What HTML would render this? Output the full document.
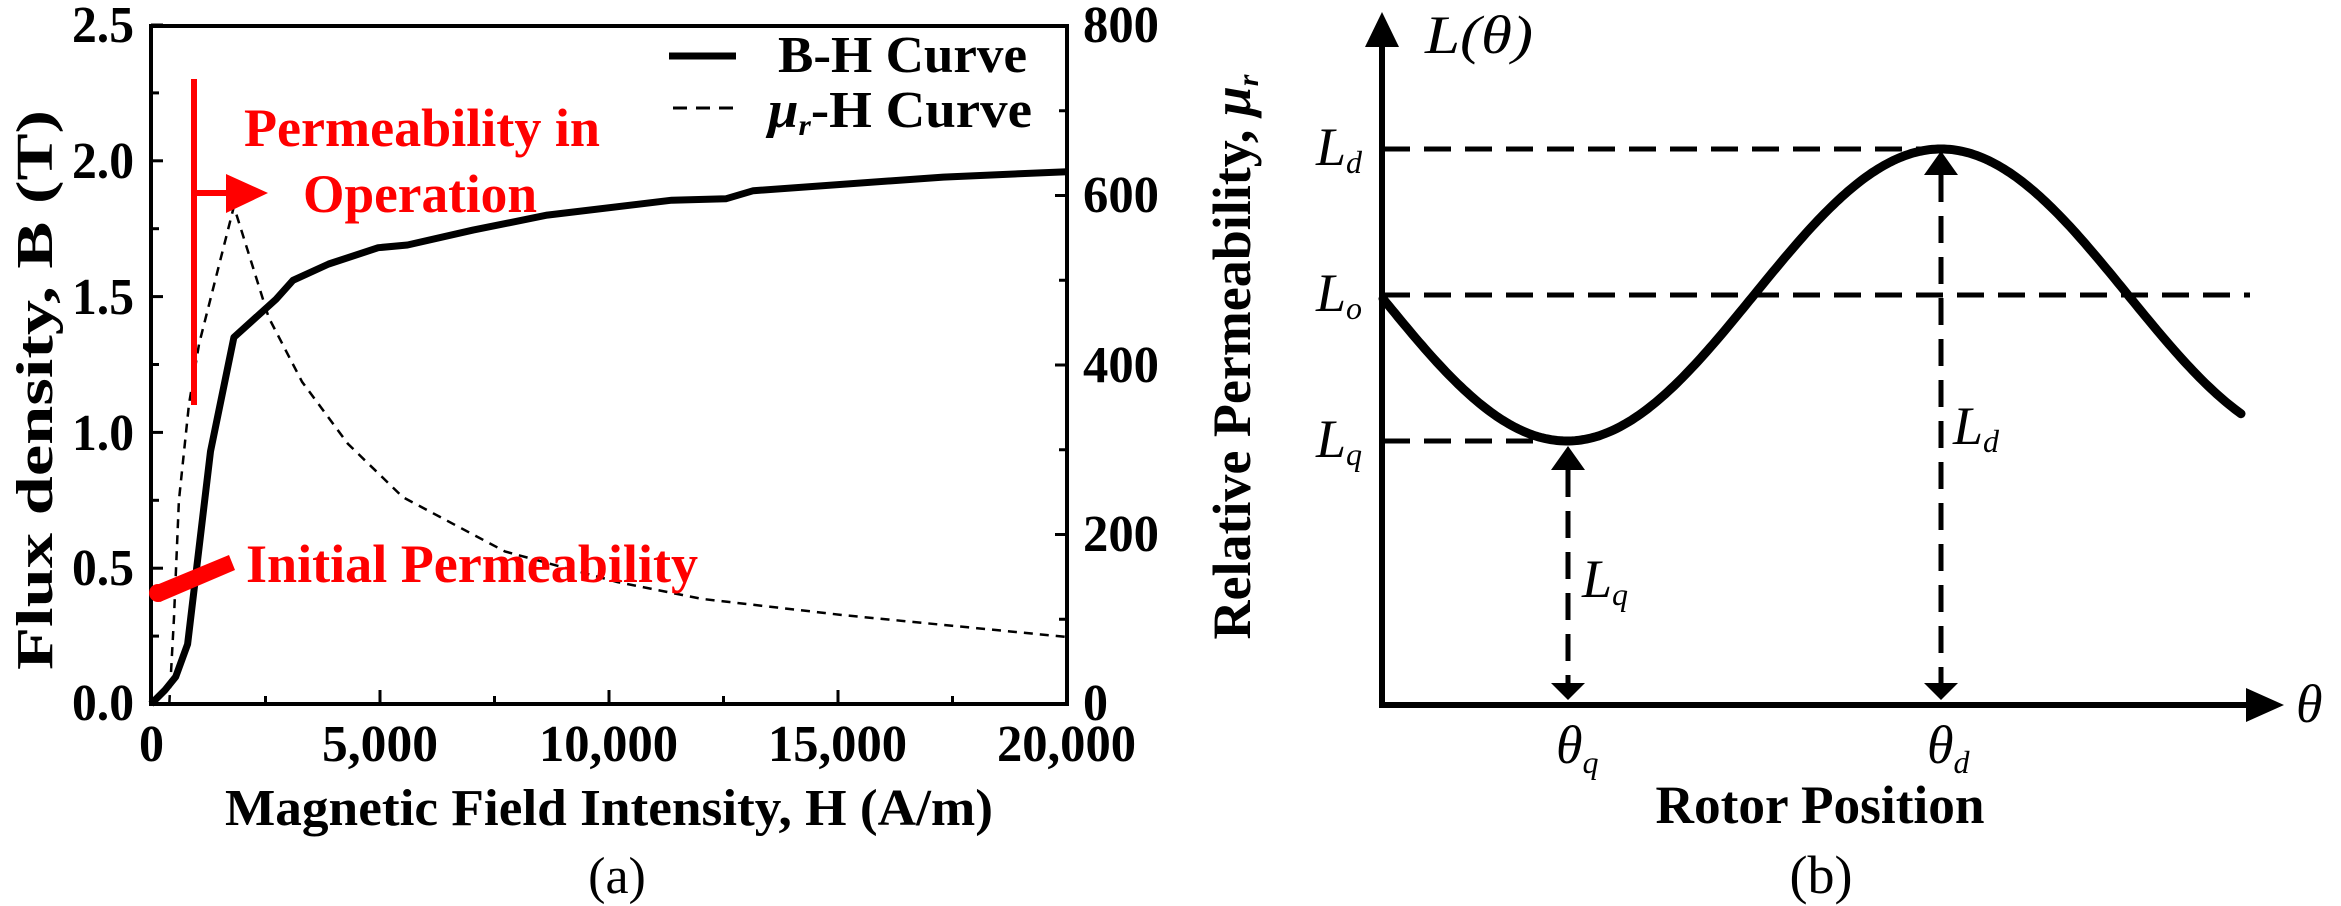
<!DOCTYPE html>
<html><head><meta charset="utf-8"><style>
html,body{margin:0;padding:0;background:#fff;}
svg{display:block;}
text{font-family:"Liberation Serif","Times New Roman",serif;}
</style></head><body>
<svg id="s" width="2341" height="906" viewBox="0 0 2341 906" xmlns="http://www.w3.org/2000/svg" font-family="Liberation Serif, serif">
<g id="left">
<rect x="151" y="26" width="916" height="678" fill="none" stroke="#000" stroke-width="4"/>
</g>
<g font-weight="bold" font-size="52" fill="#000" lengthAdjust="spacingAndGlyphs">
<text x="72" y="42" textLength="62" lengthAdjust="spacingAndGlyphs">2.5</text>
<text x="72" y="178" textLength="62" lengthAdjust="spacingAndGlyphs">2.0</text>
<text x="72" y="314" textLength="62" lengthAdjust="spacingAndGlyphs">1.5</text>
<text x="72" y="450" textLength="62" lengthAdjust="spacingAndGlyphs">1.0</text>
<text x="72" y="585" textLength="62" lengthAdjust="spacingAndGlyphs">0.5</text>
<text x="72" y="720" textLength="62" lengthAdjust="spacingAndGlyphs">0.0</text>
<text x="1083" y="42" textLength="76" lengthAdjust="spacingAndGlyphs">800</text>
<text x="1083" y="212" textLength="76" lengthAdjust="spacingAndGlyphs">600</text>
<text x="1083" y="382" textLength="76" lengthAdjust="spacingAndGlyphs">400</text>
<text x="1083" y="551" textLength="76" lengthAdjust="spacingAndGlyphs">200</text>
<text x="1083" y="720" textLength="25" lengthAdjust="spacingAndGlyphs">0</text>
<text x="139" y="761" textLength="25" lengthAdjust="spacingAndGlyphs">0</text>
<text x="322" y="761" textLength="116" lengthAdjust="spacingAndGlyphs">5,000</text>
<text x="539" y="761" textLength="139" lengthAdjust="spacingAndGlyphs">10,000</text>
<text x="768" y="761" textLength="139" lengthAdjust="spacingAndGlyphs">15,000</text>
<text x="997" y="761" textLength="139" lengthAdjust="spacingAndGlyphs">20,000</text>
<text x="609" y="825" text-anchor="middle" textLength="768" lengthAdjust="spacingAndGlyphs">Magnetic Field Intensity, H (A/m)</text>
<text x="617" y="893" text-anchor="middle" font-weight="normal">(a)</text>
<text transform="translate(52,390) rotate(-90)" text-anchor="middle" textLength="560" lengthAdjust="spacingAndGlyphs">Flux density, B (T)</text>
<text x="778" y="72" textLength="249" lengthAdjust="spacingAndGlyphs">B-H Curve</text>
<text x="768" y="127" textLength="264" lengthAdjust="spacingAndGlyphs"><tspan font-style="italic">μ</tspan><tspan font-size="30" font-style="italic" dy="8">r</tspan><tspan dy="-8">-H Curve</tspan></text>
</g>
<line x1="669" y1="56" x2="736" y2="56" stroke="#000" stroke-width="7"/>
<line x1="673" y1="108" x2="740" y2="108" stroke="#000" stroke-width="3" stroke-dasharray="14,9"/>
<g id="ticks" stroke="#000" stroke-width="3"></g>
<polyline id="bh" fill="none" stroke="#000" stroke-width="7" stroke-linejoin="round"/>
<polyline id="mu" fill="none" stroke="#000" stroke-width="2.5" stroke-dasharray="9,7"/>
<g fill="#f00" stroke="none">
<rect x="191" y="79" width="6" height="326"/>
<rect x="194" y="190" width="36" height="6"/>
<polygon points="226,174 268,193 226,213"/>
<circle cx="158" cy="593" r="9"/>
<polygon points="154,586 229,555 235,570 160,602"/>
</g>
<g font-weight="bold" font-size="54" fill="#f00">
<text x="244" y="146" textLength="356" lengthAdjust="spacingAndGlyphs">Permeability in</text>
<text x="303" y="212" textLength="234" lengthAdjust="spacingAndGlyphs">Operation</text>
<text x="246" y="582" textLength="452" lengthAdjust="spacingAndGlyphs">Initial Permeability</text>
</g>

<g stroke="#000" stroke-width="5" fill="none" stroke-dasharray="27,14">
<line x1="1383" y1="149" x2="1942" y2="149"/>
<line x1="1383" y1="295" x2="2250" y2="295"/>
<line x1="1383" y1="441" x2="1567" y2="441"/>
<line x1="1568" y1="470" x2="1568" y2="690"/>
<line x1="1941" y1="175" x2="1941" y2="690"/>
</g>
<g fill="#000">
<polygon points="1551,470 1585,470 1568,446"/>
<polygon points="1551,683 1585,683 1568,700"/>
<polygon points="1924,175 1958,175 1941,151"/>
<polygon points="1924,683 1958,683 1941,700"/>
<polygon points="1365,47 1399,47 1382,12"/>
<polygon points="2246,688 2246,722 2284,705"/>
</g>
<polyline points="1382,40 1382,705 2250,705" fill="none" stroke="#000" stroke-width="6"/>
<path id="cos" fill="none" stroke="#000" stroke-width="9" stroke-linecap="round"/>
<g font-size="54" fill="#000" font-style="italic">
<text x="1425" y="53" textLength="108" lengthAdjust="spacingAndGlyphs">L(θ)</text>
<text x="1316" y="165">L<tspan font-size="32" dy="8">d</tspan></text>
<text x="1316" y="311">L<tspan font-size="32" dy="8">o</tspan></text>
<text x="1316" y="457">L<tspan font-size="32" dy="8">q</tspan></text>
<text x="1582" y="597">L<tspan font-size="32" dy="8">q</tspan></text>
<text x="1953" y="444">L<tspan font-size="32" dy="8">d</tspan></text>
<text x="1556" y="763">θ<tspan font-size="32" dy="10">q</tspan></text>
<text x="1927" y="763">θ<tspan font-size="32" dy="10">d</tspan></text>
<text x="2296" y="722">θ</text>
</g>
<g font-weight="bold" font-size="54" fill="#000">
<text x="1820" y="823" text-anchor="middle" textLength="329" lengthAdjust="spacingAndGlyphs">Rotor Position</text>
<text x="1821" y="893" text-anchor="middle" font-weight="normal">(b)</text>
<text transform="translate(1250,357) rotate(-90)" text-anchor="middle" textLength="565" lengthAdjust="spacingAndGlyphs">Relative Permeability, <tspan font-style="italic">μ</tspan><tspan font-style="italic" font-size="30" dy="8">r</tspan></text>
</g>
</svg>
<script>
var X=function(h){return 151+h*916/20000;};
var YB=function(b){return 704-b*271.6;};
var YM=function(m){return 704-m*678/800;};
var bh=[[0,0],[300,0.05],[540,0.1],[800,0.22],[1300,0.93],[1810,1.35],[2730,1.49],[3100,1.56],[3880,1.62],[4960,1.68],[5600,1.69],[7030,1.745],[8650,1.80],[11370,1.855],[12550,1.86],[13150,1.89],[17300,1.94],[20000,1.96]];
document.getElementById('bh').setAttribute('points',bh.map(function(p){return X(p[0]).toFixed(1)+','+YB(p[1]).toFixed(1);}).join(' '));
var mu=[[400,0],[500,100],[610,240],[830,354],[1050,425],[1810,587],[2570,456],[3300,380],[4300,307],[5500,244],[7730,180],[10180,144],[12030,124],[15090,105],[20000,79]];
document.getElementById('mu').setAttribute('points',mu.map(function(p){return X(p[0]).toFixed(1)+','+YM(p[1]).toFixed(1);}).join(' '));
var d='';for(var x=1383;x<=2241;x+=3){var y=295+146*Math.cos(Math.PI*(x-1567)/374);d+=(d?'L':'M')+x+','+y.toFixed(1);}
document.getElementById('cos').setAttribute('d',d);
var t='',i;
for(i=0;i<=10;i++){var y=704-i*67.9;var L=(i%2==0)?12:8;t+='<line x1="151" y1="'+y+'" x2="'+(151+L)+'" y2="'+y+'"/>';}
for(i=0;i<=8;i++){var y=704-i*84.75;var L=(i%2==0)?12:8;t+='<line x1="1067" y1="'+y+'" x2="'+(1067-L)+'" y2="'+y+'"/>';}
for(i=0;i<=8;i++){var x=151+i*114.5;var L=(i%2==0)?14:8;t+='<line x1="'+x+'" y1="704" x2="'+x+'" y2="'+(704-L)+'"/>';}
document.getElementById('ticks').innerHTML=t;
</script>
</body></html>
